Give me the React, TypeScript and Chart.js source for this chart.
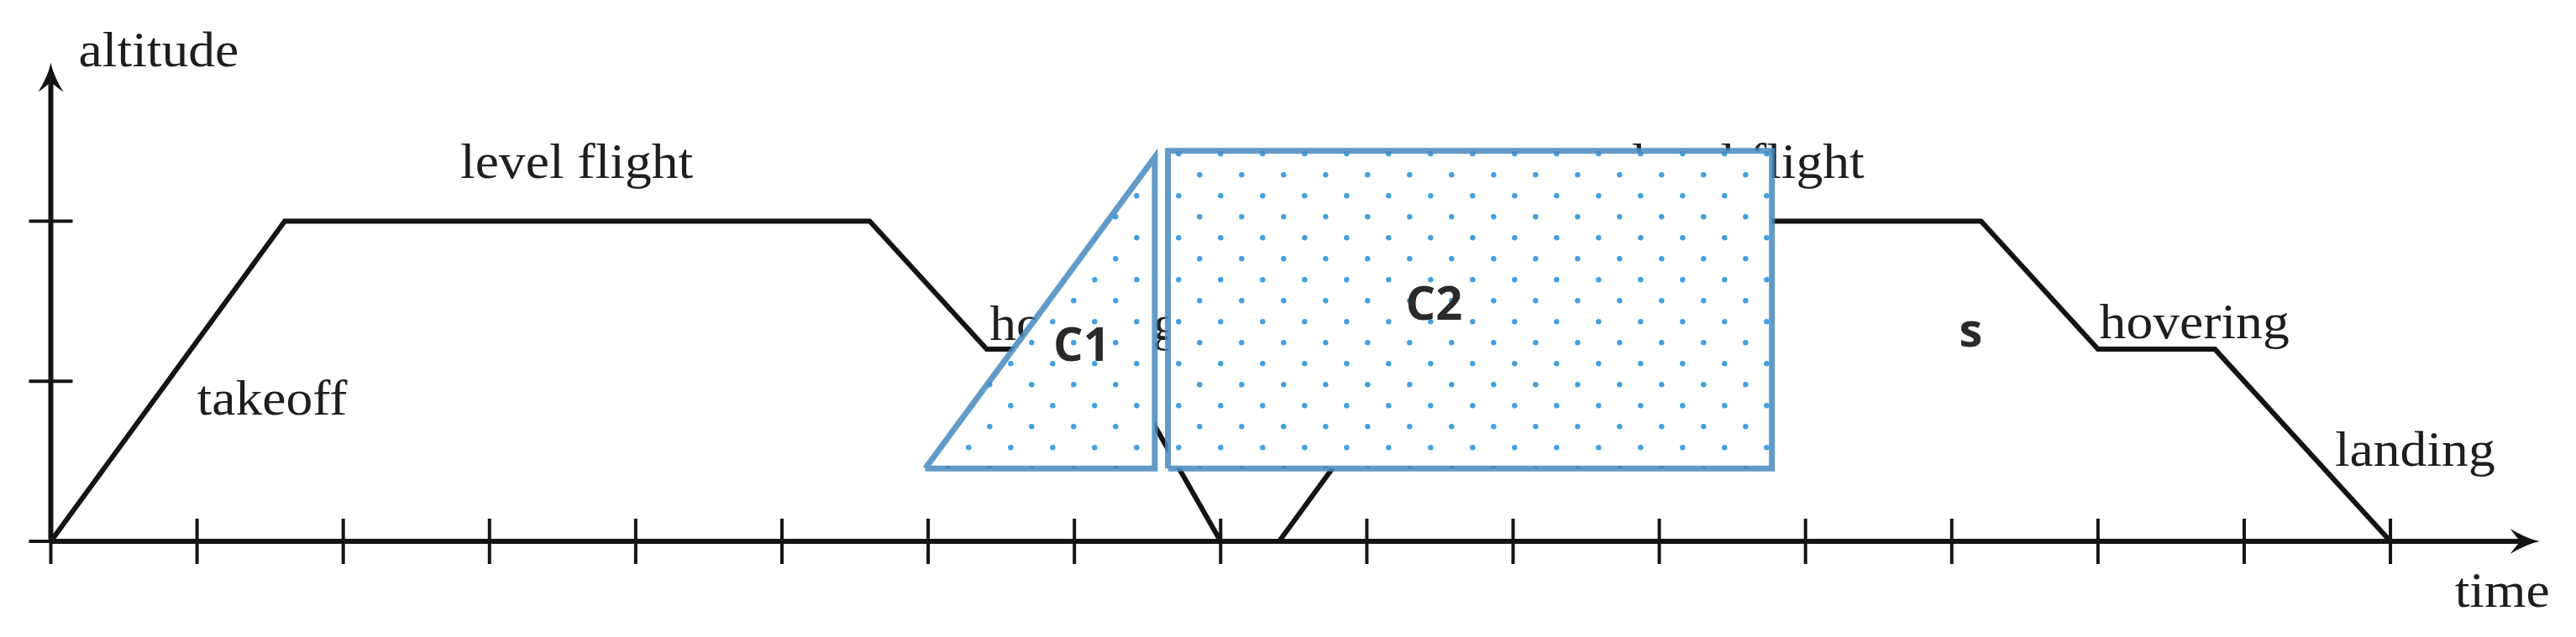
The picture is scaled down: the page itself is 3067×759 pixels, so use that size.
import React, { useEffect, useRef } from 'react';
import { Chart, registerables } from 'chart.js';

Chart.register(...registerables);

const W = 3067;
const H = 759;

// ---- data ----
const profileTime = [0, 1.6, 5.6, 6.4, 7.25, 8.0, 8.4, 10.0, 13.2, 14.0, 14.8, 16.0];
const profileAltitude = [0, 2, 2, 1.2, 1.2, 0, 0, 2, 2, 1.2, 1.2, 0];

const timeTicks = [0, 1, 2, 3, 4, 5, 6, 7, 8, 9, 10, 11, 12, 13, 14, 15, 16];
const altitudeTicks = [0, 1, 2];
const timeAxisTip = 17.02;
const altitudeAxisTip = 2.99;

const c1Time = [5.98, 7.55, 7.55, 5.98];
const c1Altitude = [0.455, 2.4, 0.455, 0.455];
const c2Time = [7.64, 7.64, 11.77, 11.77, 7.64];
const c2Altitude = [0.455, 2.44, 2.44, 0.455, 0.455];

const phaseLabels = ['altitude', 'level flight', 'takeoff', 'hovering', 'level flight', 'hovering', 'landing', 'time'];
const phaseLabelTime = [0.19, 2.8, 1.0, 6.42, 10.81, 14.01, 15.62, 16.44];
const phaseLabelAltitude = [2.97, 2.27, 0.79, 1.26, 2.27, 1.27, 0.47, -0.41];

const regionLabels = ['C1', 'C2', 's'];
const regionLabelTime = [7.05, 9.46, 13.13];
const regionLabelAltitude = [1.21, 1.47, 1.3];

const xMin = -0.3475;
const xMax = 17.269;
const yMin = -0.598;
const yMax = 3.382;

const INK = '#141414';
const TEXT = '#1e1e1e';
const SHAPE_BORDER = 'rgba(70,138,190,0.85)';
const DOT = '#43a0de';

function toPoints(xs: number[], ys: number[]) {
  return xs.map((x, i) => ({ x, y: ys[i] }));
}

function makeDotPattern(ctx: CanvasRenderingContext2D) {
  const tile = document.createElement('canvas');
  tile.width = 50;
  tile.height = 50;
  const t = tile.getContext('2d')!;
  t.fillStyle = '#ffffff';
  t.fillRect(0, 0, 50, 50);
  t.fillStyle = DOT;
  const dots = [
    [3.3, 33.3],
    [28.3, 8.3],
  ];
  for (const [dx, dy] of dots) {
    t.beginPath();
    t.arc(dx, dy, 3.2, 0, Math.PI * 2);
    t.fill();
  }
  return ctx.createPattern(tile, 'repeat')!;
}

function drawArrow(ctx: CanvasRenderingContext2D, x: number, y: number, angle: number) {
  ctx.save();
  ctx.translate(x, y);
  ctx.rotate(angle);
  ctx.fillStyle = INK;
  ctx.beginPath();
  ctx.moveTo(0, 0);
  ctx.quadraticCurveTo(-15, -3, -35, -15);
  ctx.quadraticCurveTo(-26, -3, -23, 0);
  ctx.quadraticCurveTo(-26, 3, -35, 15);
  ctx.quadraticCurveTo(-15, 3, 0, 0);
  ctx.closePath();
  ctx.fill();
  ctx.restore();
}

const annotationPlugin = {
  id: 'annotationPlugin',
  beforeDatasetsDraw(chart: any) {
    const { ctx, scales } = chart;
    const xs = scales.x;
    const ys = scales.y;
    ctx.save();
    ctx.font = '60px "Liberation Serif"';
    ctx.fillStyle = TEXT;
    ctx.textAlign = 'left';
    ctx.textBaseline = 'alphabetic';
    phaseLabels.forEach((t, i) => {
      const px = xs.getPixelForValue(phaseLabelTime[i]);
      const py = ys.getPixelForValue(phaseLabelAltitude[i]);
      ctx.save();
      ctx.translate(px, py);
      ctx.scale(1.06, 1);
      ctx.fillText(t, 0, 0);
      ctx.restore();
    });
    ctx.restore();
  },
  afterDatasetsDraw(chart: any) {
    const { ctx, scales } = chart;
    const xs = scales.x;
    const ys = scales.y;
    ctx.save();
    drawArrow(ctx, xs.getPixelForValue(timeAxisTip), ys.getPixelForValue(0), 0);
    drawArrow(ctx, xs.getPixelForValue(0), ys.getPixelForValue(altitudeAxisTip), -Math.PI / 2);
    ctx.font = 'bold 56px "Open Sans"';
    ctx.fillStyle = '#2a2a2a';
    ctx.textAlign = 'center';
    ctx.textBaseline = 'middle';
    regionLabels.forEach((t, i) => {
      ctx.fillText(t, xs.getPixelForValue(regionLabelTime[i]), ys.getPixelForValue(regionLabelAltitude[i]));
    });
    ctx.restore();
  },
};

export default function App() {
  const ref = useRef<HTMLCanvasElement | null>(null);

  useEffect(() => {
    const canvas = ref.current;
    if (!canvas) return;
    const ctx = canvas.getContext('2d')!;
    const pattern = makeDotPattern(ctx);

    const lineBase = {
      type: 'line' as const,
      pointRadius: 0,
      tension: 0,
      fill: false,
      borderJoinStyle: 'miter' as const,
      borderCapStyle: 'butt' as const,
    };

    const chart = new Chart(ctx, {
      type: 'line',
      data: {
        datasets: [
          {
            ...lineBase,
            label: 'C1',
            data: toPoints(c1Time, c1Altitude),
            borderColor: SHAPE_BORDER,
            borderWidth: 7,
            backgroundColor: pattern as any,
            fill: 'shape',
            order: 1,
          },
          {
            ...lineBase,
            label: 'C2',
            data: toPoints(c2Time, c2Altitude),
            borderColor: SHAPE_BORDER,
            borderWidth: 7,
            backgroundColor: pattern as any,
            fill: 'shape',
            order: 2,
          },
          {
            ...lineBase,
            label: 'profile',
            data: toPoints(profileTime, profileAltitude),
            borderColor: INK,
            borderWidth: 6,
            order: 5,
          },
          {
            ...lineBase,
            label: 'time axis',
            data: [
              { x: 0, y: 0 },
              { x: timeAxisTip - 0.12, y: 0 },
            ],
            borderColor: INK,
            borderWidth: 6,
            order: 6,
          },
          {
            ...lineBase,
            label: 'altitude axis',
            data: [
              { x: 0, y: 0 },
              { x: 0, y: altitudeAxisTip - 0.11 },
            ],
            borderColor: INK,
            borderWidth: 6,
            order: 6,
          },
          {
            type: 'scatter' as const,
            label: 'time ticks',
            data: timeTicks.map((t) => ({ x: t, y: 0 })),
            pointStyle: 'line',
            pointRotation: 90,
            pointRadius: 27,
            pointBorderWidth: 4,
            pointBorderColor: INK,
            showLine: false,
            order: 7,
          } as any,
          {
            type: 'scatter' as const,
            label: 'altitude ticks',
            data: altitudeTicks.map((a) => ({ x: 0, y: a })),
            pointStyle: 'line',
            pointRotation: 0,
            pointRadius: 26,
            pointBorderWidth: 4,
            pointBorderColor: INK,
            showLine: false,
            order: 7,
          } as any,
        ],
      },
      options: {
        animation: false,
        responsive: false,
        devicePixelRatio: 1,
        events: [],
        layout: { padding: 0, autoPadding: false },
        scales: {
          x: { type: 'linear', min: xMin, max: xMax, display: false },
          y: { type: 'linear', min: yMin, max: yMax, display: false },
        },
        plugins: {
          legend: { display: false },
          tooltip: { enabled: false },
        },
      },
      plugins: [annotationPlugin],
    });

    return () => chart.destroy();
  }, []);

  return (
    <div style={{ position: 'fixed', left: 0, top: 0, width: W, height: H, background: '#ffffff' }}>
      <canvas ref={ref} width={W} height={H} style={{ width: W, height: H, display: 'block' }} />
    </div>
  );
}
